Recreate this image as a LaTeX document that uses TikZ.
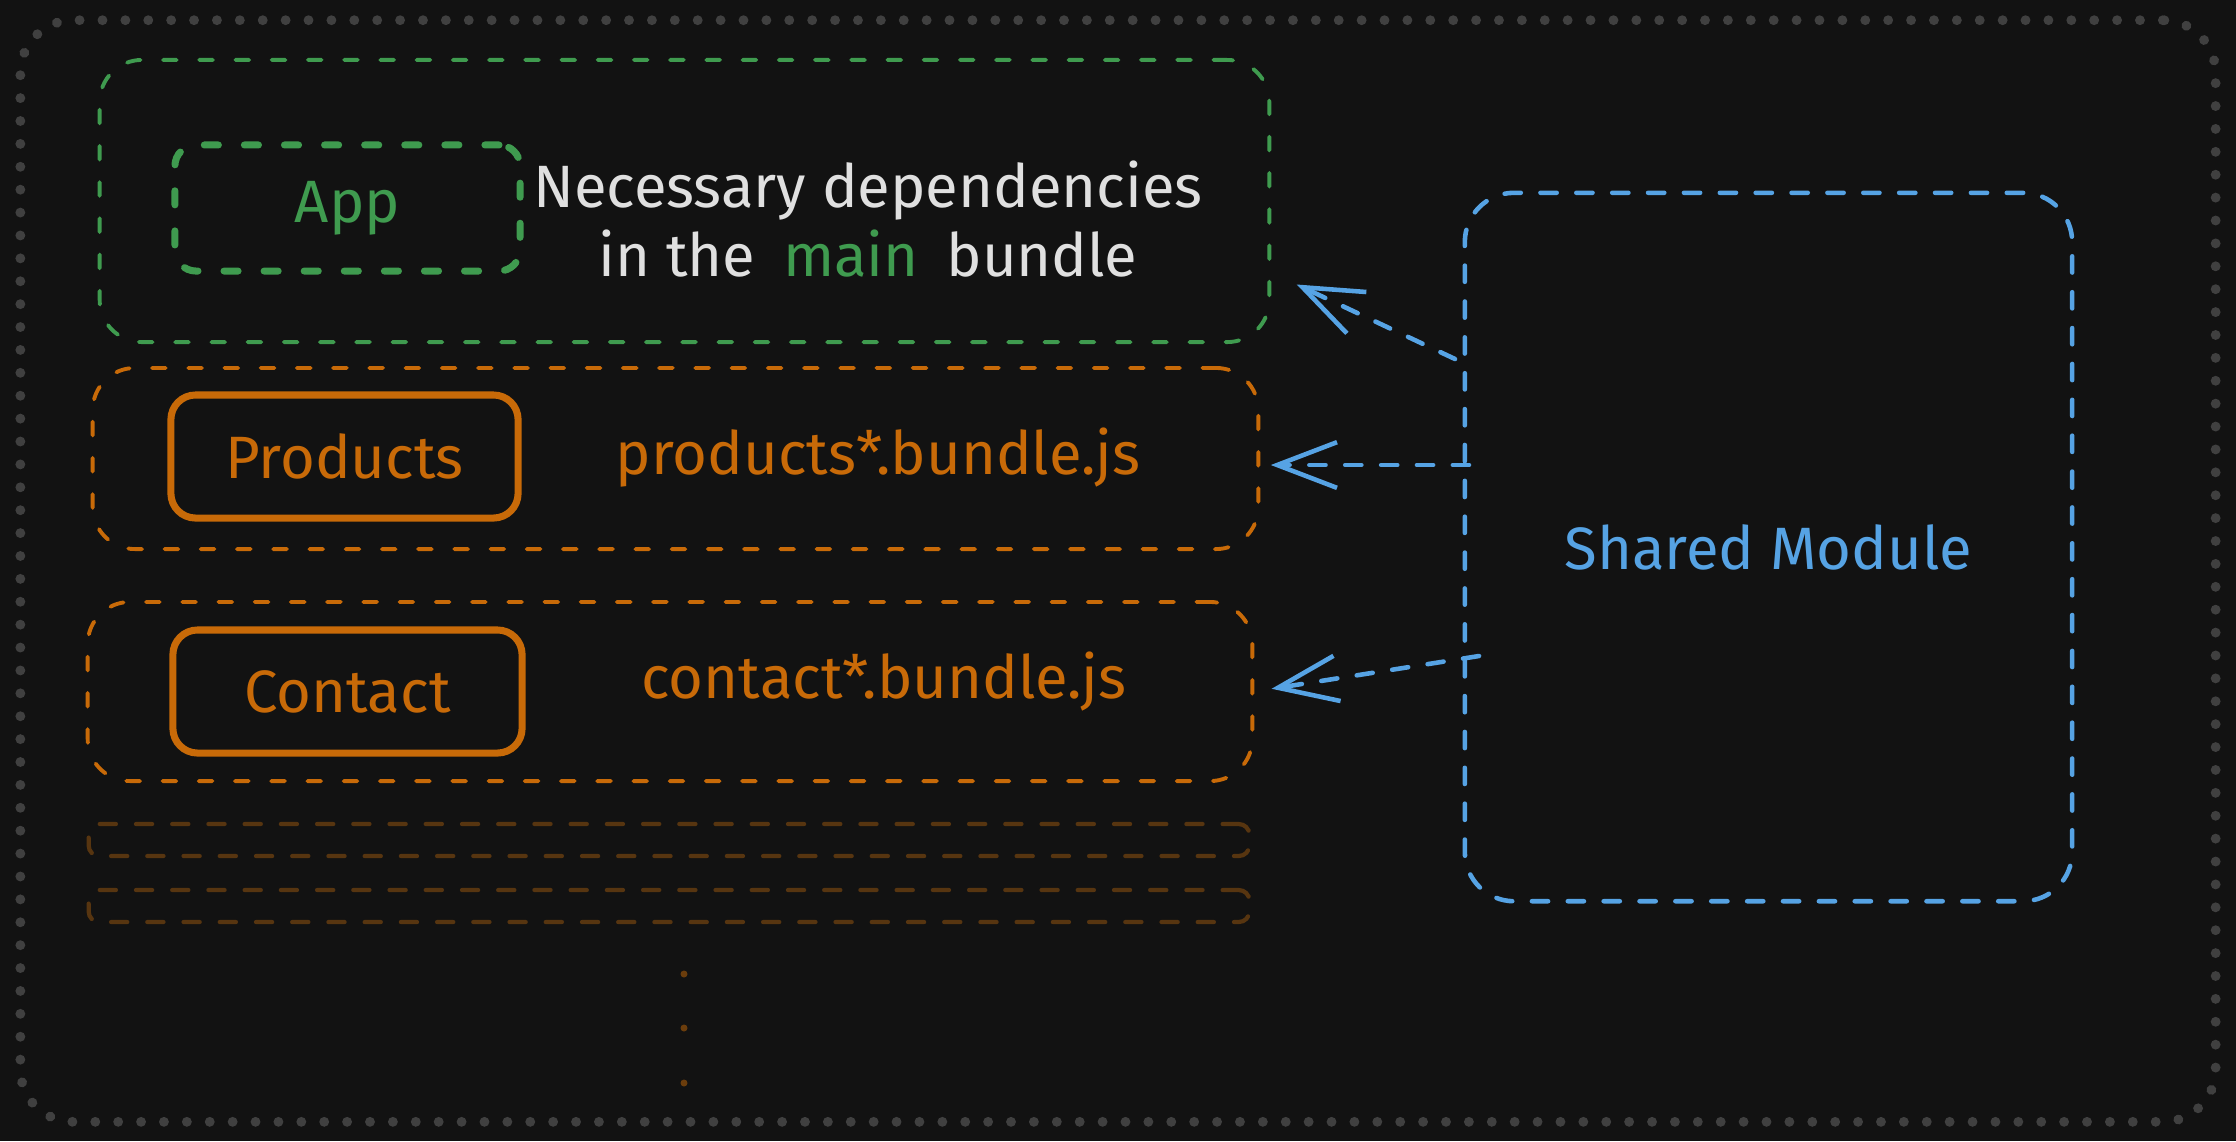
\documentclass[tikz,border=0pt]{standalone}
\usepackage{fontspec}
\setmainfont{Fira Sans}
\usetikzlibrary{arrows.meta}
\definecolor{bgdark}{HTML}{121212}
\definecolor{framegray}{HTML}{404040}
\definecolor{appgreen}{HTML}{3F9B4F}
\definecolor{bundleorange}{HTML}{C86A08}
\definecolor{fadedorange}{HTML}{573510}
\definecolor{dotbrown}{HTML}{6B3D0C}
\definecolor{sharedblue}{HTML}{56A3E4}
\definecolor{textwhite}{HTML}{E0E0E0}
\begin{document}
\begin{tikzpicture}[x=0.01cm,y=-0.01cm,
        every node/.style={font=\fontsize{17}{19.6}\selectfont,inner sep=0pt},
        bundlebox/.style={draw,rectangle,line width=1.1pt,line cap=round,dash pattern=on 3.9pt off 6.4pt,rounded corners=12pt},
        chunkbox/.style={draw=bundleorange,rectangle,line width=2pt,rounded corners=7pt,text=bundleorange},
        lazybox/.style={draw=fadedorange,rectangle,line width=1.2pt,line cap=round,dash pattern=on 4.6pt off 5.7pt,rounded corners=3pt,minimum width=11.6cm,minimum height=0.32cm},
        link/.style={draw=sharedblue,line width=1.3pt,line cap=round,dash pattern=on 4.6pt off 5.6pt,-{Straight Barb[length=17pt,width=13pt,line width=1.3pt]}}]
    \path[fill=bgdark,use as bounding box] (0,0) rectangle (2236,1141);

    % outer frame
    \node[draw=framegray,rectangle,line width=2.8pt,line cap=round,dash pattern=on 0.01pt off 6.5pt,rounded corners=15pt,minimum width=21.94cm,minimum height=11.01cm] (frame) at (1118,571) {};

    % main bundle
    \node[bundlebox,draw=appgreen,minimum width=11.69cm,minimum height=2.82cm] (mainbundle) at (684.5,201) {};
    \node[draw=appgreen,rectangle,line width=2pt,line cap=round,dash pattern=on 4pt off 7.4pt,rounded corners=6pt,minimum width=3.45cm,minimum height=1.26cm,text=appgreen] (app) at (347.5,208) {App};
    \node[align=center,text=textwhite] (maintext) at (868,219) {Necessary dependencies\\in the\hspace{0.2em} \textcolor{appgreen}{main}\hspace{0.2em} bundle};

    % lazy chunks
    \node[bundlebox,draw=bundleorange,minimum width=11.65cm,minimum height=1.81cm] (prodbundle) at (675.5,458.5) {};
    \node[chunkbox,minimum width=3.47cm,minimum height=1.23cm] (products) at (344.5,456.5) {Products};
    \node[text=bundleorange] (prodfile) at (878,458) {products*.bundle.js};

    \node[bundlebox,draw=bundleorange,minimum width=11.64cm,minimum height=1.79cm] (contbundle) at (670,691.5) {};
    \node[chunkbox,minimum width=3.49cm,minimum height=1.23cm] (contact) at (347.5,691.5) {Contact};
    \node[text=bundleorange] (contfile) at (884,682) {contact*.bundle.js};

    \node[lazybox] (lazy1) at (669,840) {};
    \node[lazybox] (lazy2) at (669,906) {};
    \fill[dotbrown] (684,974) circle (3.5) (684,1028) circle (3.5) (684,1083) circle (3.5);

    % shared module
    \node[draw=sharedblue,rectangle,line width=1.3pt,line cap=round,dash pattern=on 4.6pt off 5.6pt,rounded corners=14pt,minimum width=6.07cm,minimum height=7.08cm,text=sharedblue] (shared) at (1768.5,547) {Shared Module};

    \coordinate (s1) at (1455,359);
    \coordinate (s2) at (1469,465);
    \coordinate (s3) at (1479,656);
    \path (mainbundle.east) -- (mainbundle.south east) coordinate[pos=0.5] (t1);
    \draw[link,shorten >=8pt] (s1) -- (t1);
    \draw[link,shorten >=3pt] (s2) -- (s2 -| prodbundle.east);
    \draw[link,shorten >=5pt] (s3) -- (contbundle.east);
\end{tikzpicture}
\end{document}
